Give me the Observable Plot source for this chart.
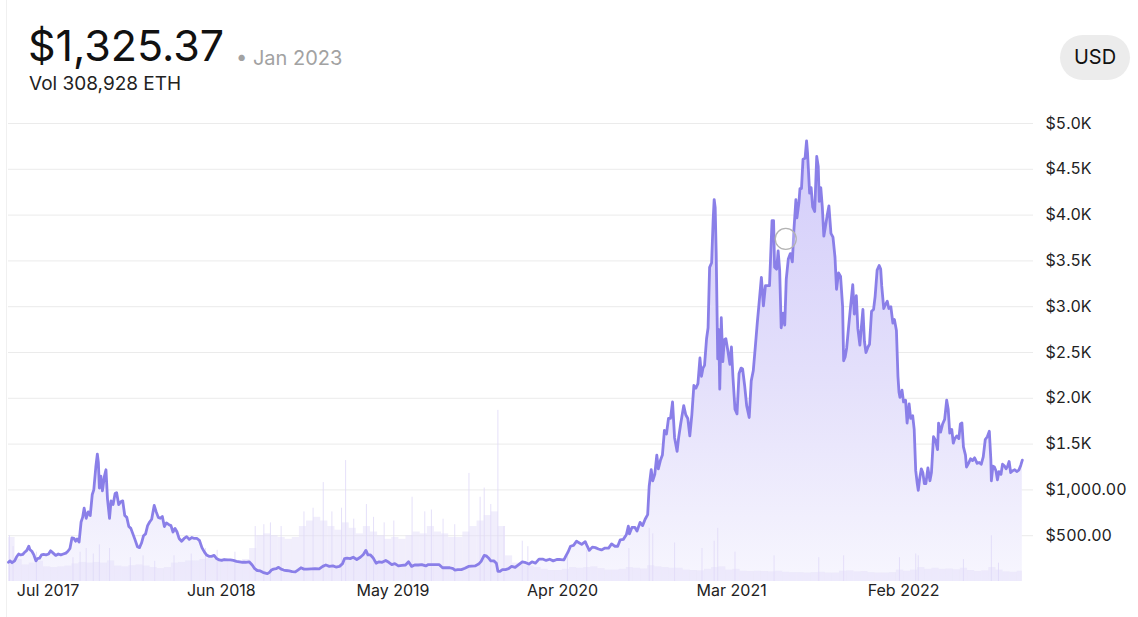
<!DOCTYPE html>
<html>
<head>
<meta charset="utf-8">
<script src="https://cdn.jsdelivr.net/npm/d3@7"></script>
<script src="https://cdn.jsdelivr.net/npm/@observablehq/plot@0.6"></script>
<style>
  html, body { margin: 0; padding: 0; background: #fff; }
  body { width: 1138px; height: 617px; overflow: hidden; font-family: Inter, "Noto Sans", sans-serif; position: relative; }
  #edge { position: absolute; left: 6px; top: 0; width: 1px; height: 617px; background: #f0f0f0; }
  #header { position: relative; height: 100px; }
  #price { position: absolute; left: 28px; top: 24px; font-size: 43px; line-height: 43px; color: #111; font-weight: 400; letter-spacing: 0px; }
  #date { position: absolute; left: 236px; top: 48px; font-size: 20px; line-height: 20px; color: #a2a2a2; }
  #vol { position: absolute; left: 29px; top: 74px; font-size: 19px; line-height: 19px; color: #222; }
  #usd { position: absolute; left: 1060px; top: 35px; width: 70px; height: 45px; border-radius: 23px; background: #ececec; color: #111; font-size: 20px; line-height: 45px; text-align: center; }
  #chart { position: relative; }
</style>
</head>
<body>
<div id="edge"></div>
<div id="header">
  <div id="price">$1,325.37</div>
  <div id="date">• Jan 2023</div>
  <div id="vol">Vol 308,928 ETH</div>
  <div id="usd">USD</div>
</div>
<div id="chart"></div>
<script>
// ETH/USD daily-ish closes
const ethPrice = [
["2017-07-22",210],["2017-07-25",225],["2017-07-29",205],["2017-08-03",225],["2017-08-07",270],["2017-08-11",300],
["2017-08-15",290],["2017-08-19",295],["2017-08-23",320],["2017-08-27",340],["2017-08-31",385],["2017-09-02",350],
["2017-09-06",330],["2017-09-10",290],["2017-09-14",225],["2017-09-17",250],["2017-09-21",255],["2017-09-25",290],
["2017-09-29",295],["2017-10-04",290],["2017-10-09",300],["2017-10-13",335],["2017-10-18",310],["2017-10-23",285],
["2017-10-28",300],["2017-11-02",290],["2017-11-07",300],["2017-11-12",310],["2017-11-16",330],["2017-11-20",360],
["2017-11-24",475],["2017-11-28",470],["2017-12-01",440],["2017-12-04",465],["2017-12-08",430],["2017-12-12",650],
["2017-12-15",700],["2017-12-18",800],["2017-12-22",690],["2017-12-26",760],["2017-12-30",720],["2018-01-03",950],
["2018-01-06",1000],["2018-01-10",1250],["2018-01-13",1390],["2018-01-15",1300],["2018-01-17",1020],["2018-01-20",1150],
["2018-01-23",990],["2018-01-27",1150],["2018-01-30",1220],["2018-02-02",900],["2018-02-06",690],["2018-02-09",880],
["2018-02-13",840],["2018-02-17",960],["2018-02-20",970],["2018-02-24",840],["2018-02-28",870],["2018-03-04",880],
["2018-03-08",720],["2018-03-12",700],["2018-03-16",600],["2018-03-20",580],["2018-03-24",520],["2018-03-28",460],
["2018-04-02",380],["2018-04-06",370],["2018-04-10",420],["2018-04-14",500],["2018-04-18",520],["2018-04-22",610],
["2018-04-26",650],["2018-04-30",680],["2018-05-05",830],["2018-05-09",760],["2018-05-13",700],["2018-05-17",690],
["2018-05-21",710],["2018-05-25",600],["2018-05-29",640],["2018-06-03",620],["2018-06-07",610],["2018-06-11",540],
["2018-06-15",580],["2018-06-19",540],["2018-06-23",470],["2018-06-28",440],["2018-07-03",470],["2018-07-08",490],
["2018-07-13",460],["2018-07-18",480],["2018-07-23",470],["2018-07-28",470],["2018-08-02",450],["2018-08-07",370],
["2018-08-12",320],["2018-08-16",290],["2018-08-21",275],["2018-08-26",275],["2018-08-31",285],["2018-09-05",250],
["2018-09-10",235],["2018-09-15",230],["2018-09-20",240],["2018-09-26",235],["2018-10-02",235],["2018-10-08",230],
["2018-10-14",220],["2018-10-20",215],["2018-10-26",210],["2018-11-01",210],["2018-11-08",215],["2018-11-14",180],
["2018-11-19",140],["2018-11-24",120],["2018-11-30",115],["2018-12-05",100],["2018-12-10",92],["2018-12-14",85],
["2018-12-18",100],["2018-12-22",125],["2018-12-26",135],["2018-12-31",140],["2019-01-05",155],["2019-01-10",135],
["2019-01-15",125],["2019-01-20",120],["2019-01-26",115],["2019-02-01",108],["2019-02-07",105],["2019-02-12",125],
["2019-02-18",150],["2019-02-24",135],["2019-03-02",135],["2019-03-10",138],["2019-03-18",140],["2019-03-26",138],
["2019-04-02",165],["2019-04-08",180],["2019-04-15",165],["2019-04-22",170],["2019-04-28",158],["2019-05-05",165],
["2019-05-11",195],["2019-05-15",250],["2019-05-20",255],["2019-05-26",250],["2019-06-01",265],["2019-06-08",240],
["2019-06-15",265],["2019-06-21",295],["2019-06-26",340],["2019-06-30",290],["2019-07-05",290],["2019-07-10",260],
["2019-07-16",200],["2019-07-22",215],["2019-07-28",210],["2019-08-04",230],["2019-08-10",210],["2019-08-16",185],
["2019-08-22",195],["2019-08-29",170],["2019-09-05",175],["2019-09-12",180],["2019-09-18",215],["2019-09-24",165],
["2019-09-30",180],["2019-10-07",180],["2019-10-14",185],["2019-10-22",170],["2019-10-27",185],["2019-11-04",185],
["2019-11-10",185],["2019-11-17",185],["2019-11-24",150],["2019-12-01",150],["2019-12-08",150],["2019-12-15",140],
["2019-12-18",125],["2019-12-24",130],["2019-12-31",130],["2020-01-07",145],["2020-01-14",165],["2020-01-20",167],
["2020-01-27",170],["2020-02-03",190],["2020-02-08",220],["2020-02-14",285],["2020-02-18",280],["2020-02-22",260],
["2020-02-27",225],["2020-03-04",225],["2020-03-09",200],["2020-03-12",112],["2020-03-16",110],["2020-03-21",130],
["2020-03-27",130],["2020-04-02",140],["2020-04-08",165],["2020-04-15",155],["2020-04-22",185],["2020-04-29",215],
["2020-05-06",205],["2020-05-12",190],["2020-05-18",215],["2020-05-25",200],["2020-06-01",245],["2020-06-08",245],
["2020-06-15",230],["2020-06-22",243],["2020-06-29",225],["2020-07-06",240],["2020-07-13",240],["2020-07-20",235],
["2020-07-24",280],["2020-07-28",320],["2020-08-02",385],["2020-08-08",395],["2020-08-14",440],["2020-08-18",425],
["2020-08-24",405],["2020-08-31",435],["2020-09-04",385],["2020-09-08",340],["2020-09-14",375],["2020-09-20",370],
["2020-09-26",355],["2020-10-02",345],["2020-10-09",365],["2020-10-16",365],["2020-10-22",410],["2020-10-28",385],
["2020-11-03",385],["2020-11-08",455],["2020-11-14",460],["2020-11-20",510],["2020-11-24",605],["2020-11-26",520],
["2020-12-01",590],["2020-12-07",590],["2020-12-11",550],["2020-12-17",645],["2020-12-22",610],["2020-12-27",680],
["2021-01-01",730],["2021-01-04",1040],["2021-01-08",1220],["2021-01-11",1100],["2021-01-15",1170],["2021-01-19",1380],
["2021-01-22",1230],["2021-01-26",1320],["2021-01-30",1380],["2021-02-03",1650],["2021-02-07",1610],["2021-02-11",1780],
["2021-02-15",1780],["2021-02-19",1960],["2021-02-23",1570],["2021-02-28",1420],["2021-03-03",1570],["2021-03-07",1720],
["2021-03-13",1920],["2021-03-17",1820],["2021-03-21",1780],["2021-03-25",1590],["2021-03-29",1820],["2021-04-02",2140],
["2021-04-06",2110],["2021-04-10",2160],["2021-04-14",2440],["2021-04-17",2240],["2021-04-20",2330],["2021-04-23",2360],
["2021-04-27",2650],["2021-04-30",2770],["2021-05-03",3430],["2021-05-07",3480],["2021-05-10",3950],["2021-05-12",4170],
["2021-05-14",4080],["2021-05-16",3580],["2021-05-19",2430],["2021-05-21",2750],["2021-05-23",2100],["2021-05-26",2880],
["2021-05-29",2400],["2021-06-01",2640],["2021-06-04",2650],["2021-06-08",2520],["2021-06-12",2370],["2021-06-15",2560],
["2021-06-18",2230],["2021-06-22",1880],["2021-06-26",1830],["2021-06-30",2270],["2021-07-04",2330],["2021-07-07",2320],
["2021-07-11",2140],["2021-07-15",1920],["2021-07-20",1790],["2021-07-24",2190],["2021-07-28",2300],["2021-08-01",2560],
["2021-08-05",2830],["2021-08-08",3010],["2021-08-13",3320],["2021-08-17",3010],["2021-08-21",3230],["2021-08-25",3230],
["2021-08-29",3230],["2021-09-03",3940],["2021-09-06",3940],["2021-09-08",3430],["2021-09-12",3410],["2021-09-15",3610],
["2021-09-18",3400],["2021-09-21",2770],["2021-09-25",2930],["2021-09-28",2800],["2021-10-01",3300],["2021-10-05",3520],
["2021-10-09",3580],["2021-10-13",3490],["2021-10-16",3830],["2021-10-20",4170],["2021-10-22",3970],["2021-10-26",4140],
["2021-10-28",4290],["2021-10-31",4290],["2021-11-03",4610],["2021-11-07",4620],["2021-11-10",4810],["2021-11-12",4670],
["2021-11-16",4240],["2021-11-19",4300],["2021-11-22",4090],["2021-11-26",4040],["2021-11-30",4640],["2021-12-03",4530],
["2021-12-05",4150],["2021-12-08",4300],["2021-12-11",4090],["2021-12-14",3770],["2021-12-17",3870],["2021-12-21",4010],
["2021-12-24",4100],["2021-12-28",3800],["2022-01-01",3760],["2022-01-05",3540],["2022-01-08",3190],["2022-01-12",3370],
["2022-01-16",3330],["2022-01-20",3000],["2022-01-22",2410],["2022-01-25",2450],["2022-01-28",2550],["2022-02-01",2790],
["2022-02-05",3020],["2022-02-09",3240],["2022-02-12",2920],["2022-02-16",3120],["2022-02-19",2760],["2022-02-23",2580],
["2022-02-26",2780],["2022-03-01",2970],["2022-03-04",2620],["2022-03-07",2500],["2022-03-11",2560],["2022-03-14",2590],
["2022-03-18",2950],["2022-03-22",2970],["2022-03-25",3110],["2022-03-29",3400],["2022-04-02",3450],["2022-04-05",3410],
["2022-04-07",3230],["2022-04-11",2980],["2022-04-14",3020],["2022-04-18",3060],["2022-04-21",2980],["2022-04-25",3000],
["2022-04-29",2820],["2022-05-02",2860],["2022-05-06",2740],["2022-05-09",2240],["2022-05-11",2070],["2022-05-13",2010],
["2022-05-17",2090],["2022-05-20",1960],["2022-05-24",1980],["2022-05-27",1730],["2022-05-31",1940],["2022-06-03",1780],
["2022-06-07",1810],["2022-06-10",1660],["2022-06-13",1210],["2022-06-16",1070],["2022-06-18",995],["2022-06-21",1130],
["2022-06-24",1230],["2022-06-27",1190],["2022-06-30",1070],["2022-07-03",1070],["2022-07-07",1240],["2022-07-11",1100],
["2022-07-14",1190],["2022-07-18",1580],["2022-07-22",1540],["2022-07-26",1440],["2022-07-28",1730],["2022-08-01",1630],
["2022-08-05",1720],["2022-08-09",1770],["2022-08-13",1980],["2022-08-16",1880],["2022-08-19",1620],["2022-08-23",1660],
["2022-08-26",1510],["2022-08-29",1560],["2022-09-02",1590],["2022-09-06",1560],["2022-09-09",1720],["2022-09-12",1730],
["2022-09-15",1470],["2022-09-19",1380],["2022-09-21",1250],["2022-09-25",1290],["2022-09-29",1340],["2022-10-03",1320],
["2022-10-07",1350],["2022-10-12",1290],["2022-10-16",1300],["2022-10-20",1280],["2022-10-24",1360],["2022-10-28",1550],
["2022-11-01",1580],["2022-11-05",1640],["2022-11-08",1330],["2022-11-09",1100],["2022-11-12",1260],["2022-11-15",1250],
["2022-11-18",1210],["2022-11-21",1110],["2022-11-24",1200],["2022-11-28",1170],["2022-12-01",1280],["2022-12-05",1260],
["2022-12-08",1230],["2022-12-11",1260],["2022-12-14",1310],["2022-12-17",1190],["2022-12-21",1210],["2022-12-25",1220],
["2022-12-29",1200],["2023-01-02",1215],["2023-01-06",1270],["2023-01-09",1325]
];

// Traded volume (thousand ETH per day), typical level per two-week block
const volBand = [
["2017-07-22",1200],["2017-08-04",600],["2017-08-18",450],["2017-09-01",500],["2017-09-15",550],["2017-09-29",400],
["2017-10-13",380],["2017-10-27",400],["2017-11-10",420],["2017-11-24",480],["2017-12-08",520],["2017-12-22",500],
["2018-01-05",520],["2018-01-19",500],["2018-02-02",560],["2018-02-16",420],["2018-03-02",400],["2018-03-16",430],
["2018-03-30",450],["2018-04-13",420],["2018-04-27",380],["2018-05-11",350],["2018-05-25",380],["2018-06-08",500],
["2018-06-22",520],["2018-07-06",560],["2018-07-20",560],["2018-08-03",600],["2018-08-17",620],["2018-08-31",600],
["2018-09-14",620],["2018-09-28",580],["2018-10-12",560],["2018-10-26",600],["2018-11-09",900],["2018-11-23",1250],
["2018-12-07",1300],["2018-12-21",1250],["2019-01-04",1200],["2019-01-18",1150],["2019-02-01",1200],["2019-02-15",1500],
["2019-03-01",1650],["2019-03-15",1750],["2019-03-29",1650],["2019-04-12",1500],["2019-04-26",1400],["2019-05-10",1600],
["2019-05-24",1450],["2019-06-07",1300],["2019-06-21",1500],["2019-07-05",1350],["2019-07-19",1250],["2019-08-02",1150],
["2019-08-16",1200],["2019-08-30",1150],["2019-09-13",1250],["2019-09-27",1350],["2019-10-11",1300],["2019-10-25",1500],
["2019-11-08",1350],["2019-11-22",1300],["2019-12-06",1200],["2019-12-20",1200],["2020-01-03",1350],["2020-01-17",1500],
["2020-01-31",1650],["2020-02-14",1800],["2020-02-28",1900],["2020-03-13",1500],["2020-03-27",700],["2020-04-10",500],
["2020-04-24",450],["2020-05-08",420],["2020-05-22",380],["2020-06-05",330],["2020-06-19",300],["2020-07-03",300],
["2020-07-17",330],["2020-07-31",380],["2020-08-14",360],["2020-08-28",380],["2020-09-11",400],["2020-09-25",350],
["2020-10-09",310],["2020-10-23",310],["2020-11-06",330],["2020-11-20",380],["2020-12-04",360],["2020-12-18",340],
["2021-01-01",430],["2021-01-15",400],["2021-01-29",380],["2021-02-12",360],["2021-02-26",360],["2021-03-12",310],
["2021-03-26",300],["2021-04-09",290],["2021-04-23",330],["2021-05-07",380],["2021-05-21",400],["2021-06-04",310],
["2021-06-18",330],["2021-07-02",280],["2021-07-16",270],["2021-07-30",280],["2021-08-13",270],["2021-08-27",260],
["2021-09-10",280],["2021-09-24",250],["2021-10-08",240],["2021-10-22",240],["2021-11-05",230],["2021-11-19",240],
["2021-12-03",250],["2021-12-17",230],["2021-12-31",230],["2022-01-14",280],["2022-01-28",290],["2022-02-11",260],
["2022-02-25",270],["2022-03-11",240],["2022-03-25",230],["2022-04-08",230],["2022-04-22",240],["2022-05-06",310],
["2022-05-20",280],["2022-06-03",310],["2022-06-17",380],["2022-07-01",330],["2022-07-15",360],["2022-07-29",330],
["2022-08-12",340],["2022-08-26",320],["2022-09-09",360],["2022-09-23",300],["2022-10-07",270],["2022-10-21",290],
["2022-11-04",380],["2022-11-18",310],["2022-12-02",260],["2022-12-16",250],["2022-12-30",280]
];
const volEnd = "2023-01-09";

// Single-day volume spikes (thousand ETH)
const volSpikes = [
["2017-07-24",1250],["2017-07-31",950],["2017-09-15",800],["2017-11-26",650],["2017-12-10",800],["2017-12-22",900],
["2018-01-05",750],["2018-01-17",1000],["2018-02-06",900],["2018-03-19",650],["2018-04-13",700],["2018-05-06",550],
["2018-06-13",700],["2018-07-17",750],["2018-08-14",900],["2018-09-06",850],["2018-10-11",800],["2018-11-20",1500],
["2018-12-07",1550],["2018-12-20",1600],["2019-01-10",1500],["2019-02-24",1900],["2019-03-14",2000],["2019-04-03",2700],
["2019-04-20",1900],["2019-05-09",2000],["2019-05-17",3300],["2019-06-02",1700],["2019-06-27",2100],["2019-07-11",1750],
["2019-08-01",1600],["2019-08-20",1650],["2019-09-25",2300],["2019-10-20",1900],["2019-11-02",1950],["2019-11-25",1700],
["2019-12-18",1550],["2020-01-15",2950],["2020-02-06",2300],["2020-02-14",2550],["2020-02-27",2100],["2020-03-12",4670],
["2020-03-24",1500],["2020-04-29",1100],["2020-05-10",950],["2020-07-27",750],["2020-09-03",850],["2020-11-25",900],
["2021-01-04",1450],["2021-01-11",1300],["2021-02-23",1050],["2021-04-18",900],["2021-05-12",1100],["2021-05-19",1450],
["2021-06-22",800],["2021-09-07",700],["2021-12-04",650],["2022-01-22",700],["2022-05-12",650],["2022-06-13",750],
["2022-06-18",700],["2022-09-15",600],["2022-11-09",1250],["2022-11-23",500]
];

// highlighted (hover) point
const hover = [["2021-09-30",3740]];

const yTicks = [500,1000,1500,2000,2500,3000,3500,4000,4500,5000];
const yTickLabels = ["$500.00","$1,000.00","$1.5K","$2.0K","$2.5K","$3.0K","$3.5K","$4.0K","$4.5K","$5.0K"];
const xTicks = ["2017-07-01","2018-06-01","2019-05-01","2020-04-01","2021-03-01","2022-02-01"];
const xTickLabels = ["Jul 2017","Jun 2018","May 2019","Apr 2020","Mar 2021","Feb 2022"];

// ---- build tables
const parse = d3.utcParse("%Y-%m-%d");
const prices = ethPrice.map(([d, v]) => ({date: parse(d), price: v}));
const band = volBand.map(([d, v], i) => ({
  date: parse(d),
  end: parse(i + 1 < volBand.length ? volBand[i + 1][0] : volEnd),
  vol: v
}));
const spikes = volSpikes.map(([d, v]) => ({date: parse(d), vol: v}));
const hoverPts = hover.map(([d, v]) => ({date: parse(d), price: v}));
const xLab = xTicks.map((d, i) => ({date: parse(d), label: xTickLabels[i]}));
const VOL_TO_PRICE = 0.4; // volume drawn at the bottom of the price axis ($ per thousand ETH)

const gradient = () => {
  const defs = d3.create("svg:defs");
  const g = defs.append("linearGradient").attr("id", "ethGrad")
    .attr("x1", 0).attr("y1", 0).attr("x2", 0).attr("y2", 1);
  g.append("stop").attr("offset", "0%").attr("stop-color", "#d3cdfa");
  g.append("stop").attr("offset", "55%").attr("stop-color", "#e4e0fb");
  g.append("stop").attr("offset", "100%").attr("stop-color", "#f7f6fe");
  return defs.node();
};

const chart = Plot.plot({
  width: 1138,
  height: 517,
  marginTop: 23,
  marginBottom: 36,
  marginLeft: 8,
  marginRight: 105,
  style: {fontFamily: "Inter, 'Noto Sans', sans-serif", fontSize: "16px", color: "#222", background: "transparent"},
  x: {type: "utc", domain: [parse("2017-07-22"), parse("2023-01-31")], axis: null},
  y: {domain: [0, 5000], axis: null},
  marks: [
    gradient,
    Plot.ruleY(yTicks, {stroke: "#ebebeb", strokeWidth: 1}),
    Plot.areaY(prices, {x: "date", y: "price", fill: "url(#ethGrad)"}),
    Plot.rectY(band, {x1: "date", x2: "end", y: d => d.vol * VOL_TO_PRICE, fill: "#e3def9", fillOpacity: 0.5}),
    Plot.ruleX(spikes, {x: "date", y1: 0, y2: d => d.vol * VOL_TO_PRICE, stroke: "#e0dbf8", strokeWidth: 1, strokeOpacity: 0.85}),
    Plot.lineY(prices, {x: "date", y: "price", stroke: "#8a7fe8", strokeWidth: 2.8, strokeLinejoin: "round"}),
    Plot.dot(hoverPts, {x: "date", y: "price", r: 10.5, stroke: "#b3b3b3", strokeWidth: 1.3, fill: "#ffffff", fillOpacity: 0.25}),
    Plot.axisY(yTicks, {anchor: "right", label: null, tickSize: 0, tickPadding: 12, tickFormat: (d, i) => yTickLabels[i], fontSize: 16, fill: "#222"}),
    Plot.text(xLab, {x: "date", text: "label", frameAnchor: "bottom", dy: 14, dx: 19, textAnchor: "start", fontSize: 16, fill: "#222"})
  ]
});
document.getElementById("chart").appendChild(chart);
</script>
</body>
</html>
